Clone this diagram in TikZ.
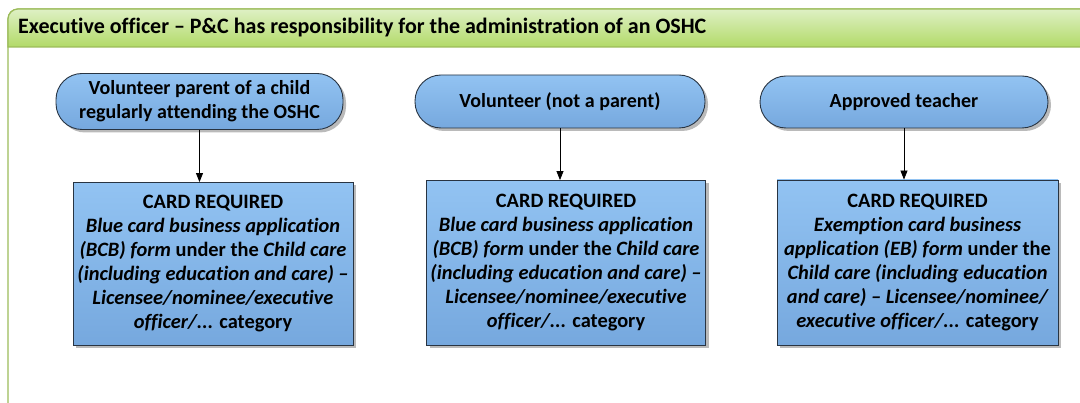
\documentclass[tikz,border=0pt]{standalone}
\usepackage{fontspec}
\setmainfont{Carlito}[Ligatures={NoCommon}]
\usetikzlibrary{shadows,arrows.meta}
\definecolor{frameG}{RGB}{155,187,89}
\definecolor{headTop}{RGB}{222,240,196}
\definecolor{headBot}{RGB}{178,218,104}
\definecolor{blueTop}{RGB}{146,195,242}
\definecolor{blueBot}{RGB}{118,168,222}
\definecolor{edgeB}{RGB}{40,52,66}
\tikzset{
  bluebox/.style={draw=edgeB, line width=0.9pt, top color=blueTop, bottom color=blueBot,
    drop shadow={shadow xshift=3pt, shadow yshift=-3pt, fill=black!45, opacity=0.6},
    align=center, inner sep=2pt, font=\fontsize{20.4}{24}\selectfont\bfseries},
  pill/.style={bluebox, rounded corners=26pt, font=\fontsize{20}{24}\selectfont\bfseries},
  cardbox/.style={bluebox},
  conn/.style={draw=black, line width=0.8pt, -{Triangle[length=9pt,width=7pt]}}
}
\begin{document}
\begin{tikzpicture}[x=1pt,y=-1pt]
\useasboundingbox (0,0) rectangle (1080,403);
\begin{scope}
\clip (0,0) rectangle (1080,403);
\draw[frameG, line width=1.2pt, rounded corners=10pt] (8,9) rectangle (1100,420);
\path[draw=frameG, line width=1.2pt, top color=headTop, bottom color=headBot, rounded corners=10pt]
  (8,47) -- (8,9) -- (1100,9) [sharp corners]-- (1100,47) -- cycle;
\end{scope}
\node[anchor=west, font=\fontsize{22}{24}\selectfont\bfseries, inner sep=0pt] (title) at (18,28)
  {Executive officer -- P\&C has responsibility for the administration of an OSHC};

\node[pill, minimum width=287pt, minimum height=56pt] (p1) at (199.5,101.5)
  {Volunteer parent of a child\\regularly attending the OSHC};
\node[pill, minimum width=290pt, minimum height=53pt] (p2) at (560,101.5)
  {Volunteer (not a parent)};
\node[pill, minimum width=288pt, minimum height=52pt] (p3) at (904,102)
  {Approved teacher};

\node[cardbox, minimum width=280pt, minimum height=163pt] (b1) at (213,264)
  {CARD REQUIRED\\
   \itshape Blue card business application\\
   \itshape (BCB) form \upshape under the \itshape Child care\\
   \itshape (including education and care) --\\
   \itshape Licensee/nominee/executive\\
   \itshape officer/... \upshape category};
\node[cardbox, minimum width=279pt, minimum height=165pt] (b2) at (566,263)
  {CARD REQUIRED\\
   \itshape Blue card business application\\
   \itshape (BCB) form \upshape under the \itshape Child care\\
   \itshape (including education and care) --\\
   \itshape Licensee/nominee/executive\\
   \itshape officer/... \upshape category};
\node[cardbox, minimum width=281pt, minimum height=165pt] (b3) at (917.5,262.5)
  {CARD REQUIRED\\
   \itshape Exemption card business\\
   \itshape application (EB) form \upshape under the\\
   \itshape Child care (including education\\
   \itshape and care) -- Licensee/nominee/\\
   \itshape executive officer/... \upshape category};

\draw[conn] (p1.south) -- (p1.south |- b1.north);
\draw[conn] (p2.south) -- (p2.south |- b2.north);
\draw[conn] (p3.south) -- (p3.south |- b3.north);
\end{tikzpicture}
\end{document}
